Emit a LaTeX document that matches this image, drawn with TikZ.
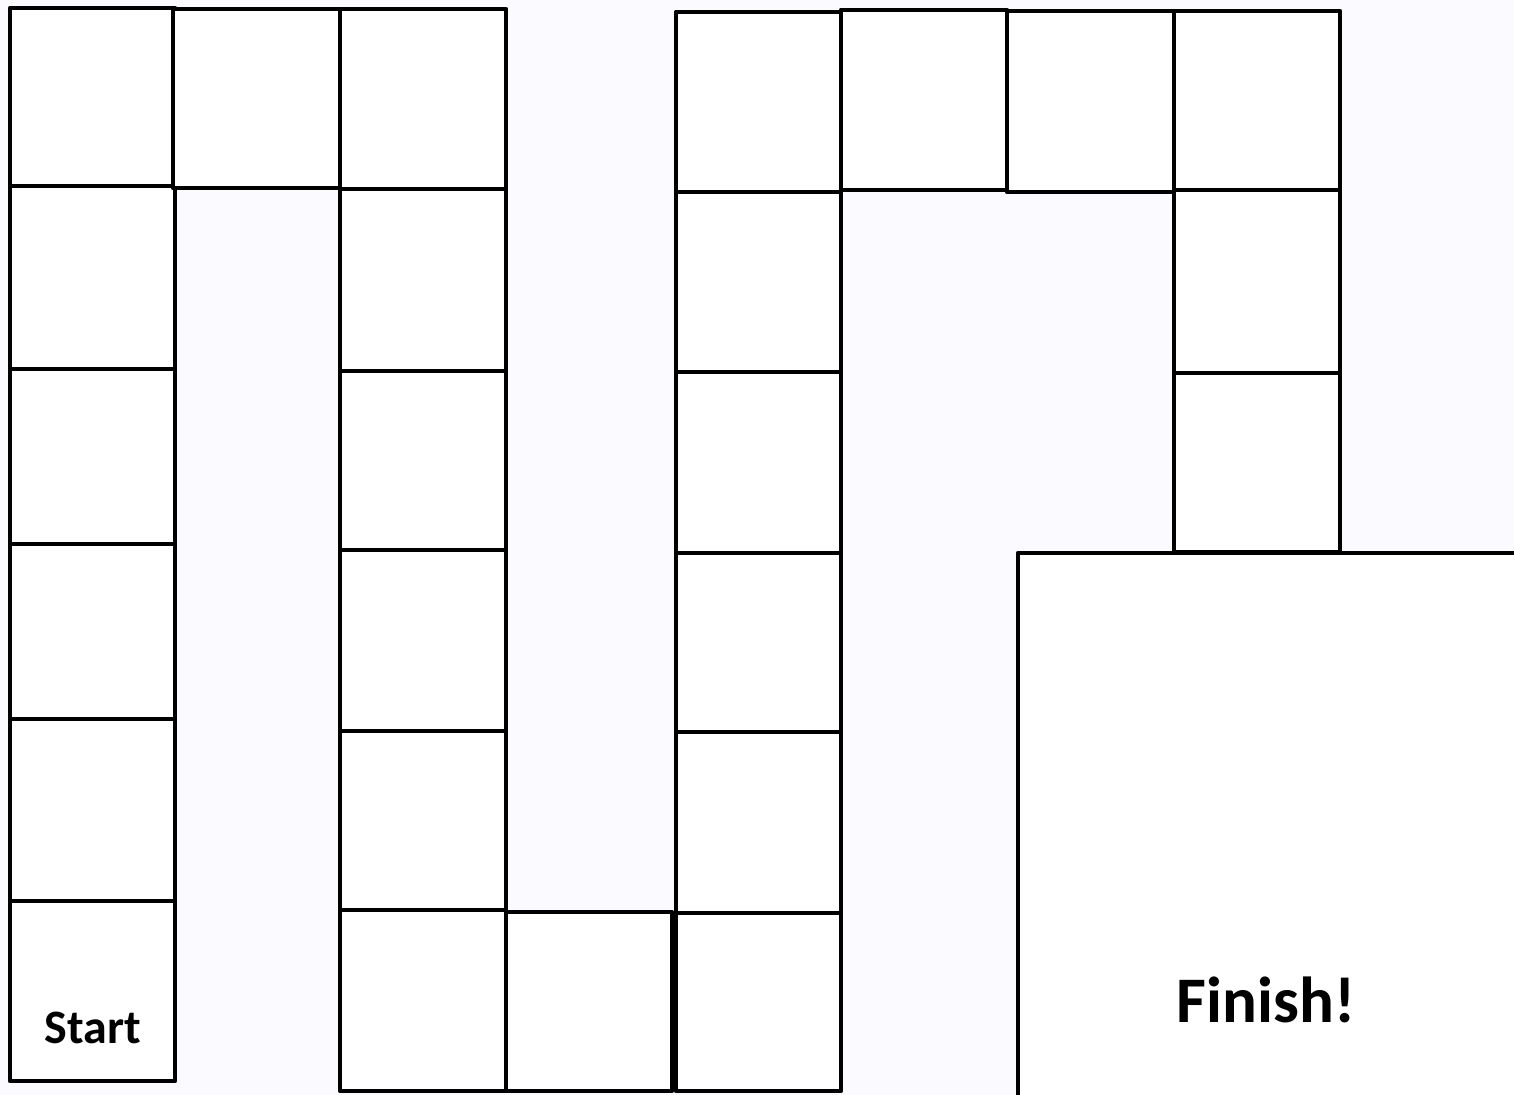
\documentclass[tikz,border=0pt]{standalone}
\usepackage{fontspec}
\setmainfont{Carlito}
\definecolor{bgc}{RGB}{250,250,255}
\tikzset{
  cell/.style={draw=black, fill=white, line width=2.4pt, rectangle, inner sep=0pt, outer sep=0pt, line join=round},
  lbl/.style={font=\bfseries, inner sep=0pt, anchor=base}
}
\newcommand{\sqcell}[5]{%
  \node[cell, minimum width={(#4-#2)*0.5pt}, minimum height={(#5-#3)*0.5pt}] (#1) at ({(#2+#4)/2},{(#3+#5)/2}) {};}
\begin{document}
\begin{tikzpicture}[x=0.5pt,y=-0.5pt]
\fill[bgc] (0,0) rectangle (1514,1095);
\useasboundingbox (0,0) rectangle (1514,1095);
% column 1
\sqcell{a1}{10}{8}{175}{186}
\sqcell{a2}{10}{186}{175}{369}
\sqcell{a3}{10}{369}{175}{544}
\sqcell{a4}{10}{544}{175}{719}
\sqcell{a5}{10}{719}{175}{901}
\sqcell{a6}{10}{901}{175}{1081}
% column 2
\sqcell{b1}{173}{9}{340}{188}
% column 3
\sqcell{c1}{340}{9}{506}{189}
\sqcell{c2}{340}{189}{506}{371}
\sqcell{c3}{340}{371}{506}{550}
\sqcell{c4}{340}{550}{506}{731}
\sqcell{c5}{340}{731}{506}{910}
\sqcell{c6}{340}{910}{506}{1091}
% column 4
\sqcell{d1}{506}{912}{672}{1091}
% column 5
\sqcell{e1}{676}{12}{841}{192}
\sqcell{e2}{676}{192}{841}{372}
\sqcell{e3}{676}{372}{841}{553}
\sqcell{e4}{676}{553}{841}{732}
\sqcell{e5}{676}{732}{841}{913}
\sqcell{e6}{676}{913}{841}{1091}
% column 6
\sqcell{f1}{841}{10}{1007}{190}
% column 7
\sqcell{g1}{1007}{11}{1174}{192}
% column 8
\sqcell{h1}{1174}{11}{1340}{190}
\sqcell{h2}{1174}{190}{1340}{373}
\sqcell{h3}{1174}{373}{1340}{552}
% finish area
\coordinate (fbl) at (1018,1100);
\coordinate (ftl) at (1018,553);
\coordinate (ftr) at (1520,553);
\fill[white] (ftl) rectangle (1520,1100);
\draw[line width=2.4pt, line join=round] (fbl) -- (ftl) -- (ftr);
\node[lbl, font=\fontsize{24}{28}\selectfont\bfseries] (start) at (93,1043) {Start};
\node[lbl, font=\fontsize{32.5}{38}\selectfont\bfseries] (finish) at (1266,1022) {Finish!};
\end{tikzpicture}
\end{document}
